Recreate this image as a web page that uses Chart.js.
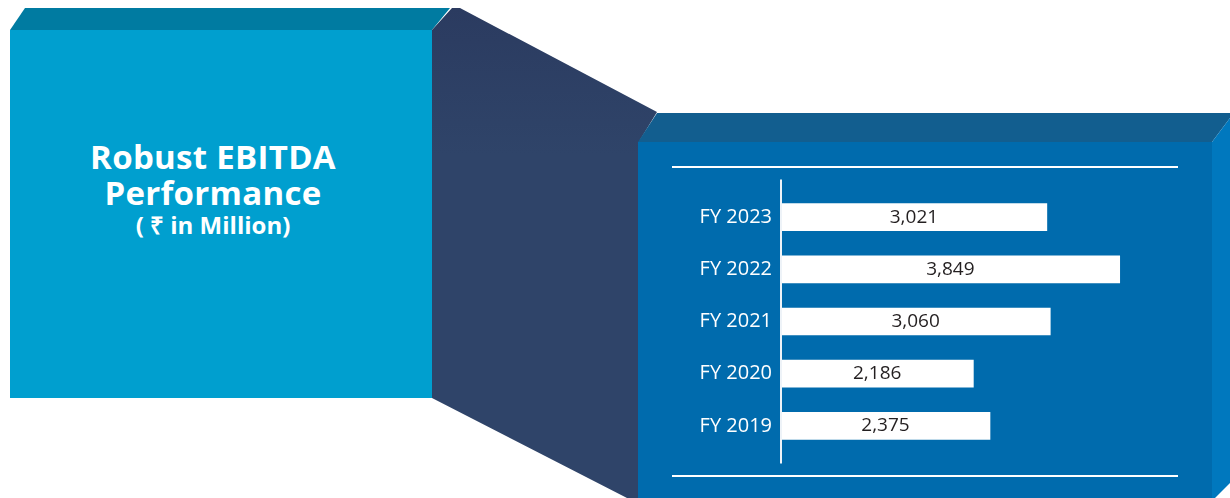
<!DOCTYPE html>
<html>
<head>
<meta charset="utf-8">
<script src="https://cdn.jsdelivr.net/npm/chart.js@4"></script>
<style>
  html, body { margin: 0; padding: 0; background: #fff; }
  #wrap { position: relative; width: 1230px; height: 498px; overflow: hidden; }
  #bg, #chart { position: absolute; left: 0; top: 0; }
  #title {
    position: absolute; left: 2px; top: 139px; width: 422px;
    text-align: center; color: #fff; font-family: 'Open Sans', sans-serif; font-weight: 700;
  }
  #title .big { font-size: 33px; line-height: 36px; letter-spacing: 0.3px; }
  #title .small { font-size: 24px; line-height: 28px; }
</style>
</head>
<body>
<div id="wrap">
  <svg id="bg" width="1230" height="498">
    <defs>
      <linearGradient id="navy" x1="0" y1="0" x2="0" y2="1">
        <stop offset="0" stop-color="#2b3b60"/>
        <stop offset="0.3" stop-color="#2f4469"/>
        <stop offset="1" stop-color="#2f4469"/>
      </linearGradient>
    </defs>
    <!-- left panel -->
    <polygon points="25,8 450,8 432,30 10,30" fill="#007ba1"/>
    <rect x="10" y="30" width="422" height="368" fill="#009fcf"/>
    <!-- navy connector -->
    <polygon points="432,30 452,8 460,8 657,112 640,140 640,498 627,498 432,398" fill="url(#navy)"/>
    <!-- right panel -->
    <polygon points="657,113 1230,113 1230,118 1212,142 638,142" fill="#125e8f"/>
    <rect x="638" y="142" width="574" height="356" fill="#006bad"/>
    <polygon points="1212,142 1230,118 1230,498 1212,498" fill="#0078be"/>
    <polygon points="1215,498 1230,483 1230,498" fill="#ffffff"/>
    <line x1="672" y1="167" x2="1178" y2="167" stroke="#ffffff" stroke-width="2"/>
    <line x1="672" y1="476" x2="1178" y2="476" stroke="#ffffff" stroke-width="2"/>
  </svg>
  <div id="title">
    <div class="big">Robust EBITDA</div>
    <div class="big">Performance</div>
    <div class="small">( ₹ in Million)</div>
  </div>
  <canvas id="chart" width="1230" height="498"></canvas>
</div>
<script>
const years = ['FY 2023', 'FY 2022', 'FY 2021', 'FY 2020', 'FY 2019']
const ebitda = [3021, 3849, 3060, 2186, 2375]

const FONT = "'Open Sans', sans-serif"

// vertical axis line, longer than the bars area
const axisLine = {
  id: 'axisLine',
  afterDatasetsDraw(chart) {
    const { ctx, chartArea } = chart
    const step = (chartArea.bottom - chartArea.top) / years.length
    ctx.save()
    ctx.strokeStyle = '#eef3f8'
    ctx.lineWidth = 2
    ctx.beginPath()
    ctx.moveTo(chartArea.left, chartArea.top - step * 0.22)
    ctx.lineTo(chartArea.left, chartArea.bottom + step * 0.22)
    ctx.stroke()
    ctx.restore()
  },
}

// value labels centred in each bar
const barValues = {
  id: 'barValues',
  afterDatasetsDraw(chart) {
    const { ctx } = chart
    const meta = chart.getDatasetMeta(0)
    ctx.save()
    ctx.fillStyle = '#231f20'
    ctx.font = `19px ${FONT}`
    ctx.textAlign = 'center'
    ctx.textBaseline = 'middle'
    meta.data.forEach((bar, i) => {
      ctx.fillText(ebitda[i].toLocaleString('en-US'), (bar.x + bar.base) / 2, bar.y)
    })
    ctx.restore()
  },
}

new Chart(document.getElementById('chart'), {
  type: 'bar',
  data: {
    labels: years,
    datasets: [{
      data: ebitda,
      backgroundColor: '#ffffff',
      borderWidth: 0,
      barThickness: 27,
    }],
  },
  options: {
    indexAxis: 'y',
    responsive: false,
    animation: false,
    layout: { padding: { left: 672, right: 97, top: 191, bottom: 46 } },
    plugins: { legend: { display: false }, tooltip: { enabled: false } },
    scales: {
      x: { display: false, min: 0, max: 4000 },
      y: {
        afterFit(scale) { scale.width = 109 },
        grid: { display: false, drawTicks: false },
        border: { display: false },
        ticks: { color: '#ffffff', font: { family: FONT, size: 20 }, padding: 9 },
      },
    },
  },
  plugins: [axisLine, barValues],
})
</script>
</body>
</html>
